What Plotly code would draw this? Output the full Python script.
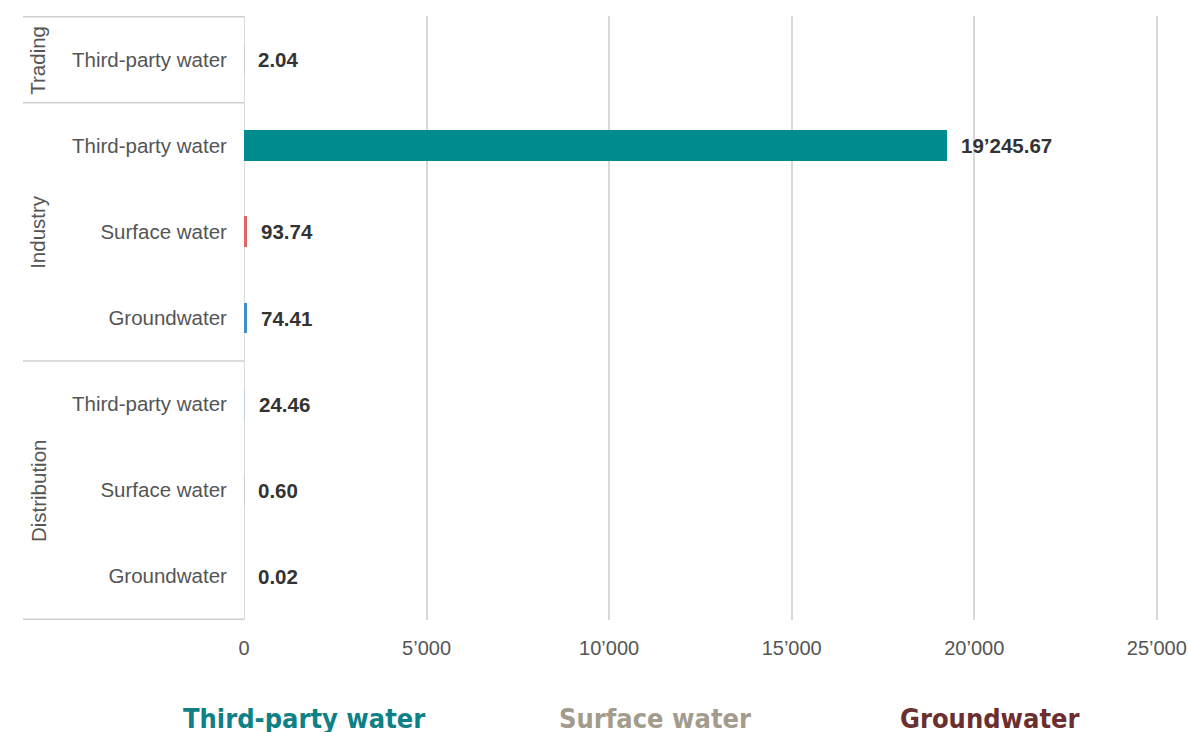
import plotly.graph_objects as go

# ---- data ----
groups = ["Trading", "Industry", "Industry", "Industry", "Distribution", "Distribution", "Distribution"]
sources = ["Third-party water", "Third-party water", "Surface water", "Groundwater",
           "Third-party water", "Surface water", "Groundwater"]
values = [2.04, 19245.67, 93.74, 74.41, 24.46, 0.60, 0.02]
bar_colors = ["#D0D0D0", "#008B8F", "#E06666", "#3D8EC9", "#BFD3DC", "#D0D0D0", "#D0D0D0"]
x_tickvals = [0, 5000, 10000, 15000, 20000, 25000]
x_ticktext = ["0", "5’000", "10’000", "15’000", "20’000", "25’000"]
legend_names = ["Third-party water", "Surface water", "Groundwater"]
legend_colors = ["#0E8187", "#A39C8D", "#6B2F2F"]
group_names = ["Trading", "Industry", "Distribution"]

keys = [f"{g}|{s}" for g, s in zip(groups, sources)]


def fmt(v):
    return f"{v:,.2f}".replace(",", "’")


FONT = "Liberation Sans, Arial, Helvetica, sans-serif"

fig = go.Figure()
fig.add_trace(go.Bar(
    y=keys, x=values, orientation="h", width=0.36,
    marker=dict(color=bar_colors, line=dict(width=0)),
    showlegend=False, hoverinfo="x+y",
))

# value labels
for k, v in zip(keys, values):
    fig.add_annotation(x=v, y=k, xref="x", yref="y", text=f"<b>{fmt(v)}</b>",
                       showarrow=False, xanchor="left", xshift=12,
                       font=dict(family=FONT, size=20.5, color="#333333"))

# group labels & separators
shape_line = dict(color="#D0D0D0", width=1.5)
x_left = -0.2415
fig.add_shape(type="line", xref="paper", yref="y", x0=x_left, x1=0, y0=-0.5, y1=-0.5, line=shape_line)
for gname in group_names:
    idx = [i for i, g in enumerate(groups) if g == gname]
    mid = (idx[0] + idx[-1]) / 2
    last = idx[-1] + 0.5
    fig.add_shape(type="line", xref="paper", yref="y", x0=x_left, x1=0, y0=last, y1=last, line=shape_line)
    fig.add_annotation(x=-0.2252, y=mid, xref="paper", yref="y", text=gname, textangle=-90,
                       showarrow=False, xanchor="center", yanchor="middle",
                       font=dict(family=FONT, size=20.5, color="#555555"))

# legend (text only, coloured)
legend_x = [0.066, 0.449, 0.815]
for name, col, lx in zip(legend_names, legend_colors, legend_x):
    fig.add_annotation(x=lx, y=-0.163, xref="paper", yref="paper", text=f"<b>{name}</b>",
                       showarrow=False, xanchor="center", yanchor="middle",
                       font=dict(family="DejaVu Sans Condensed, DejaVu Sans", size=27, color=col))

fig.update_layout(
    width=1189, height=732,
    margin=dict(l=244, r=30, t=16, b=112),
    paper_bgcolor="white", plot_bgcolor="white",
    bargap=0,
    xaxis=dict(range=[0, 25060], tickvals=x_tickvals, ticktext=x_ticktext,
               showgrid=True, gridcolor="#D9D9D9", gridwidth=1.5, zeroline=False,
               showline=False, ticks="outside", ticklen=10, tickcolor="rgba(0,0,0,0)",
               ticklabeloverflow="allow", automargin=False,
               tickfont=dict(family=FONT, size=20, color="#555555")),
    yaxis=dict(type="category", categoryorder="array", categoryarray=keys,
               tickvals=keys, ticktext=sources, autorange="reversed",
               showgrid=False, zeroline=False, showline=False, automargin=False,
               ticks="outside", ticklen=12, tickcolor="rgba(0,0,0,0)",
               tickfont=dict(family=FONT, size=20.5, color="#555555")),
)
# y axis line at x=0
fig.add_shape(type="line", xref="x", yref="paper", x0=0, x1=0, y0=0, y1=1,
              line=dict(color="#D0D0D0", width=1.5), layer="below")

fig.write_html("out.html")
